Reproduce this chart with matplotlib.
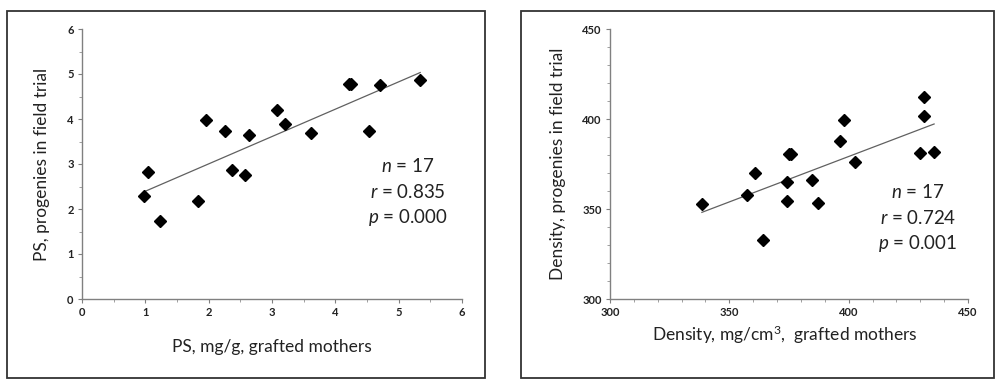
import numpy as np
import matplotlib
matplotlib.use("Agg")
import matplotlib.pyplot as plt
from matplotlib.patches import Rectangle
from matplotlib.ticker import MultipleLocator

# ---- data ----
ps_mothers = [0.98, 1.04, 1.23, 1.83, 1.95, 2.26, 2.37, 2.57, 2.64, 3.08, 3.21, 3.62, 4.21, 4.25, 4.53, 4.71, 5.34]
ps_progeny = [2.29, 2.83, 1.73, 2.18, 3.98, 3.73, 2.87, 2.75, 3.65, 4.20, 3.88, 3.68, 4.77, 4.77, 3.74, 4.75, 4.86]

dens_mothers = [338.5, 357.5, 360.6, 363.9, 374.0, 374.0, 375.0, 376.0, 384.6, 387.3, 396.3, 397.9, 402.8, 429.8, 431.4, 431.4, 435.8]
dens_progeny = [352.9, 357.6, 370.0, 332.8, 364.8, 354.6, 380.5, 380.5, 366.3, 353.3, 388.0, 399.2, 376.1, 381.3, 412.4, 401.4, 381.7]

ps_ticks = [0, 1, 2, 3, 4, 5, 6]
dens_ticks = [300, 350, 400, 450]

ps_stats = ["$n$ = 17", "$r$ = 0.835", "$p$ = 0.000"]
dens_stats = ["$n$ = 17", "$r$ = 0.724", "$p$ = 0.001"]

plt.rcParams['font.family'] = ['Lato', 'DejaVu Sans']
plt.rcParams['mathtext.fontset'] = 'custom'
plt.rcParams['mathtext.it'] = 'Lato:italic'
plt.rcParams['mathtext.rm'] = 'Lato'

fig = plt.figure(figsize=(9.96, 3.8), dpi=100)

# outer frames
for (x0, x1) in [(7, 485), (521, 994)]:
    fig.patches.append(Rectangle((x0 / 996, 2 / 380), (x1 - x0) / 996, (369 - 2) / 380,
                                 transform=fig.transFigure, fill=False,
                                 edgecolor='#333333', linewidth=1.3))

ax1 = fig.add_axes([82 / 996, 1 - 299 / 380, (462 - 82) / 996, (299 - 29) / 380])
ax2 = fig.add_axes([610 / 996, 1 - 299 / 380, (968 - 610) / 996, (299 - 29) / 380])


def style(ax, ticks, minor):
    ax.set_xlim(ticks[0], ticks[-1])
    ax.set_ylim(ticks[0], ticks[-1])
    ax.set_xticks(ticks)
    ax.set_yticks(ticks)
    ax.set_xticklabels([str(t) for t in ticks], fontweight='bold', fontsize=8, color='#222222')
    ax.set_yticklabels([str(t) for t in ticks], fontweight='bold', fontsize=8, color='#222222')
    ax.xaxis.set_minor_locator(MultipleLocator(minor))
    ax.yaxis.set_minor_locator(MultipleLocator(minor))
    for s in ['top', 'right']:
        ax.spines[s].set_visible(False)
    for s in ['left', 'bottom']:
        ax.spines[s].set_color('#808080')
        ax.spines[s].set_linewidth(1.0)
    ax.tick_params(which='major', length=3, color='#808080', width=0.8, pad=3)
    ax.tick_params(which='minor', length=2, color='#909090', width=0.6)


def draw(ax, x, y, stats, tx, ty0, dy):
    x = np.asarray(x)
    y = np.asarray(y)
    k, b = np.polyfit(x, y, 1)
    xs = np.array([x.min(), x.max()])
    ax.plot(xs, k * xs + b, color='#606060', linewidth=0.9, zorder=2)
    ax.plot(x, y, linestyle='none', marker='D', markersize=6.2,
            color='black', zorder=3)
    for i, s in enumerate(stats):
        ax.text(tx, ty0 - i * dy, s, transform=ax.transAxes, ha='center',
                va='center', fontsize=13.5, color='#222222')


draw(ax1, ps_mothers, ps_progeny, ps_stats, (408 - 82) / 380, (299 - 166) / 270, 26 / 270)
style(ax1, ps_ticks, 0.5)
ax1.set_xlabel("PS, mg/g, grafted mothers", fontsize=12.5, color='#222222')
ax1.set_ylabel("PS, progenies in field trial", fontsize=12.5, color='#222222')
ax1.xaxis.set_label_coords(0.5, (299 - 347) / 270, transform=ax1.transAxes)
ax1.yaxis.set_label_coords((42 - 82) / 380, 0.5, transform=ax1.transAxes)
ax1.xaxis.label.set_va('center')
ax1.yaxis.label.set_va('center')

draw(ax2, dens_mothers, dens_progeny, dens_stats, (918 - 610) / 358, (299 - 192) / 270, 25.5 / 270)
style(ax2, dens_ticks, 10)
ax2.set_xlabel("Density, mg/cm$^3$,  grafted mothers", fontsize=12.5, color='#222222')
ax2.set_ylabel("Density, progenies in field trial", fontsize=12.5, color='#222222')
ax2.xaxis.set_label_coords((785 - 610) / 358, (299 - 335) / 270, transform=ax2.transAxes)
ax2.yaxis.set_label_coords((558 - 610) / 358, 0.5, transform=ax2.transAxes)
ax2.xaxis.label.set_va('center')
ax2.yaxis.label.set_va('center')

fig.savefig("out.png", dpi=100)
